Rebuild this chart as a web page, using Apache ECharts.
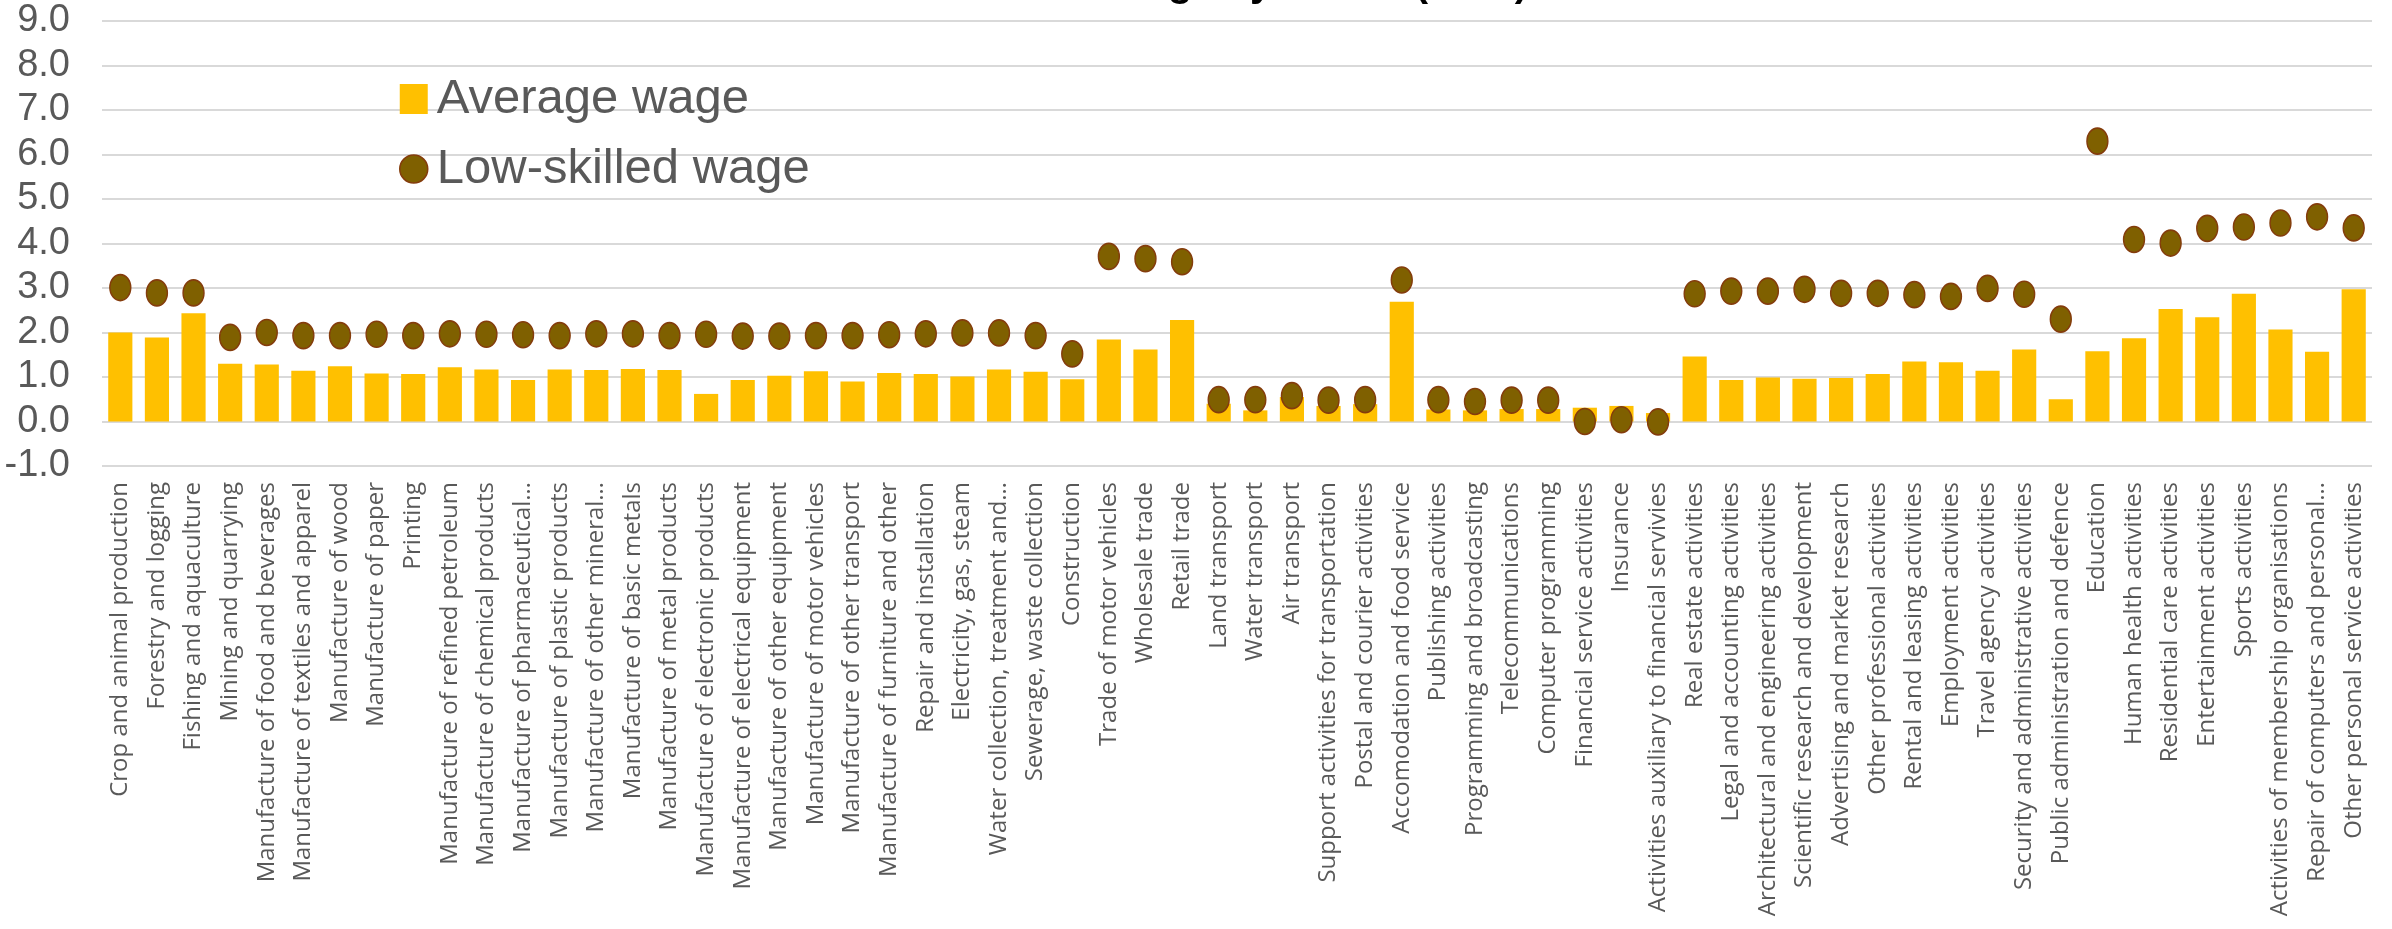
<!DOCTYPE html>
<html>
<head>
<meta charset="utf-8">
<script src="https://cdn.jsdelivr.net/npm/echarts@6/dist/echarts.min.js"></script>
<style>
html,body{margin:0;padding:0;background:#fff;}
#chart{width:2392px;height:929px;}
</style>
</head>
<body>
<div id="chart"></div>
<script>
const categories = [
  "Crop and animal production","Forestry and logging","Fishing and aquaculture","Mining and quarrying",
  "Manufacture of food and beverages","Manufacture of textiles and apparel","Manufacture of wood",
  "Manufacture of paper","Printing","Manufacture of refined petroleum","Manufacture of chemical products",
  "Manufacture of pharmaceutical…","Manufacture of plastic products","Manufacture of other mineral…",
  "Manufacture of basic metals","Manufacture of metal products","Manufacture of electronic products",
  "Manufacture of electrical equipment","Manufacture of other equipment","Manufacture of motor vehicles",
  "Manufacture of other transport","Manufacture of furniture and other","Repair and installation",
  "Electricity, gas, steam","Water collection, treatment and…","Sewerage, waste collection","Construction",
  "Trade of motor vehicles","Wholesale trade","Retail trade","Land transport","Water transport","Air transport",
  "Support activities for transportation","Postal and courier activities","Accomodation and food service",
  "Publishing activities","Programming and broadcasting","Telecommunications","Computer programming",
  "Financial service activities","Insurance","Activities auxiliary to financial servivies","Real estate activities",
  "Legal and accounting activities","Architectural and engineering activities","Scientific research and development",
  "Advertising and market research","Other professional activities","Rental and leasing activities",
  "Employment activities","Travel agency activities","Security and administrative activities",
  "Public administration and defence","Education","Human health activities","Residential care activities",
  "Entertainment activities","Sports activities","Activities of membership organisations",
  "Repair of computers and personal…","Other personal service activities"
];
const averageWage = [
  2.00,1.89,2.43,1.30,1.28,1.14,1.24,1.08,1.07,1.22,1.17,0.93,1.17,1.16,1.18,1.16,0.62,0.93,1.03,
  1.13,0.90,1.09,1.07,1.01,1.17,1.12,0.95,1.84,1.62,2.28,0.40,0.25,0.55,0.35,0.39,2.69,0.27,0.25,0.28,0.28,0.31,
  0.35,0.19,1.46,0.93,0.99,0.96,0.98,1.07,1.35,1.33,1.14,1.62,0.50,1.58,1.87,2.53,2.34,2.87,2.07,1.57,2.97
];
const lowSkilledWage = [
  3.01,2.89,2.89,1.89,2.00,1.93,1.93,1.96,1.93,1.97,1.96,1.95,1.93,1.97,1.97,1.93,1.96,1.92,1.92,
  1.93,1.93,1.95,1.97,1.99,1.99,1.93,1.52,3.71,3.66,3.59,0.49,0.49,0.58,0.48,0.49,3.18,0.49,0.45,0.48,0.48,0.00,
  0.04,-0.01,2.87,2.93,2.93,2.97,2.88,2.88,2.85,2.81,2.99,2.86,2.30,6.30,4.09,4.01,4.34,4.37,4.46,4.60,4.35
];
const yTicks = { min: -1, max: 9, step: 1 };
const seriesNames = ["Average wage", "Low-skilled wage"];
const titleText = "Relative wage by sector (ratio)";

const ellipse = 'path://M0,-1A1,1 0 1,1 0,1A1,1 0 1,1 0,-1Z';
const narrow = '"Liberation Sans Narrow", "Liberation Sans", sans-serif';

const chart = echarts.init(document.getElementById('chart'), null, {renderer: 'canvas'});
chart.setOption({
  backgroundColor: '#ffffff',
  animation: false,
  title: {
    text: titleText,
    left: 945,
    top: -40,
    textStyle: { fontFamily: '"Liberation Sans", sans-serif', fontSize: 40, fontWeight: 'bold', color: '#000000' }
  },
  legend: {
    orient: 'vertical',
    left: 394,
    top: 68,
    itemWidth: 28,
    itemHeight: 30,
    itemGap: 18,
    textStyle: { fontFamily: narrow, fontSize: 49, lineHeight: 52, color: '#595959', padding: [0,0,0,4] },
    data: [
      { name: seriesNames[0], icon: 'rect' },
      { name: seriesNames[1], icon: ellipse, itemStyle: { color: '#7F6000', borderColor: '#843C0C', borderWidth: 1.5 } }
    ]
  },
  grid: { left: 102, right: 20, top: 21, bottom: 463, containLabel: false },
  xAxis: {
    type: 'category',
    data: categories,
    axisLine: { show: false, onZero: false },
    axisTick: { show: false },
    axisLabel: {
      interval: 0, rotate: 90, margin: 16,
      fontFamily: '"Open Sans", sans-serif', fontSize: 24, color: '#595959'
    }
  },
  yAxis: {
    type: 'value',
    min: yTicks.min, max: yTicks.max, interval: yTicks.step,
    axisLine: { show: false },
    axisTick: { show: false },
    splitLine: { lineStyle: { color: '#D9D9D9', width: 2 } },
    axisLabel: {
      formatter: v => v.toFixed(1),
      fontFamily: narrow, fontSize: 38, color: '#595959', margin: 32
    }
  },
  series: [
    {
      name: seriesNames[0], type: 'bar', data: averageWage,
      barWidth: '66%',
      itemStyle: { color: '#FFC000' }
    },
    {
      name: seriesNames[1], type: 'scatter', data: lowSkilledWage,
      symbol: ellipse, symbolSize: [21, 26],
      itemStyle: { color: '#7F6000', borderColor: '#843C0C', borderWidth: 1.5, opacity: 1 }
    }
  ]
});
</script>
</body>
</html>
